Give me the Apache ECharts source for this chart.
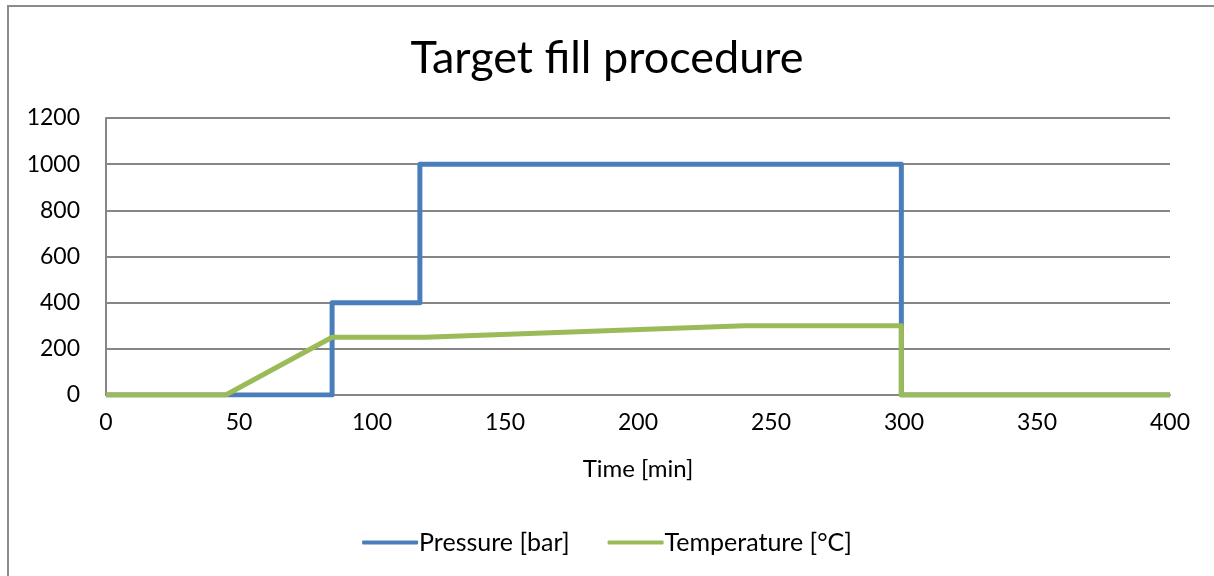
<!DOCTYPE html>
<html>
<head>
<meta charset="utf-8">
<title>Target fill procedure</title>
<script src="https://cdn.jsdelivr.net/npm/echarts@6/dist/echarts.min.js"></script>
<style>
  html, body { margin: 0; padding: 0; background: #fff; }
  #chart { width: 1214px; height: 576px; }
</style>
</head>
<body>
<div id="chart"></div>
<script>
// Time axis [min] and the set-points of the fill procedure
const pressureTime = [0, 85, 85, 118, 118, 299, 299, 400];
const pressureBar  = [0, 0, 400, 400, 1000, 1000, 0, 0];

const temperatureTime = [0, 45, 85, 120, 240, 299, 299, 400];
const temperatureC    = [0, 0, 250, 250, 300, 300, 0, 0];

const xTicks = [0, 50, 100, 150, 200, 250, 300, 350, 400];
const yTicks = [0, 200, 400, 600, 800, 1000, 1200];

const seriesNames = ['Pressure [bar]', 'Temperature [°C]'];

const pair = (xs, ys) => xs.map((x, i) => [x, ys[i]]);

const font = 'Lato, "Open Sans", sans-serif';
const chart = echarts.init(document.getElementById('chart'), null, { renderer: 'canvas' });

chart.setOption({
  animation: false,
  backgroundColor: '#fff',
  textStyle: { fontFamily: font },
  graphic: [{
    type: 'rect',
    shape: { x: 8, y: 6, width: 1400, height: 800 },
    style: { fill: 'none', stroke: '#8c8c8c', lineWidth: 2 },
    silent: true
  }],
  title: {
    text: 'Target fill procedure',
    left: 'center',
    top: 31,
    textStyle: { fontFamily: font, fontSize: 45, fontWeight: 'normal', color: '#000' }
  },
  legend: {
    top: 525,
    left: 'center',
    itemWidth: 56,
    itemHeight: 4,
    itemGap: 38,
    icon: 'roundRect',
    textStyle: { fontFamily: font, fontSize: 25, color: '#000', padding: [0, 0, 0, -4] },
    data: seriesNames
  },
  grid: { left: 106, right: 44, top: 118, bottom: 181, containLabel: false },
  xAxis: {
    type: 'value',
    min: xTicks[0],
    max: xTicks[xTicks.length - 1],
    interval: 50,
    name: 'Time [min]',
    nameLocation: 'middle',
    nameGap: 62,
    nameTextStyle: { fontFamily: font, fontSize: 24, color: '#000' },
    axisLine: { show: true, lineStyle: { color: '#868686', width: 2 } },
    axisTick: { show: false },
    axisLabel: { fontFamily: font, fontSize: 23, color: '#000', margin: 16 },
    splitLine: { show: false }
  },
  yAxis: {
    type: 'value',
    min: yTicks[0],
    max: yTicks[yTicks.length - 1],
    interval: 200,
    axisLine: { show: true, lineStyle: { color: '#868686', width: 2 } },
    axisTick: { show: false },
    axisLabel: { fontFamily: font, fontSize: 23, color: '#000', margin: 26, formatter: v => String(v) },
    splitLine: { show: true, lineStyle: { color: '#868686', width: 2 } }
  },
  series: [
    {
      name: seriesNames[0],
      type: 'line',
      data: pair(pressureTime, pressureBar),
      showSymbol: false,
      lineStyle: { color: '#4a7ebb', width: 5, join: 'round' },
      itemStyle: { color: '#4a7ebb' },
      z: 2
    },
    {
      name: seriesNames[1],
      type: 'line',
      data: pair(temperatureTime, temperatureC),
      showSymbol: false,
      lineStyle: { color: '#9bbb59', width: 5, join: 'round' },
      itemStyle: { color: '#9bbb59' },
      z: 3
    }
  ]
});
</script>
</body>
</html>
